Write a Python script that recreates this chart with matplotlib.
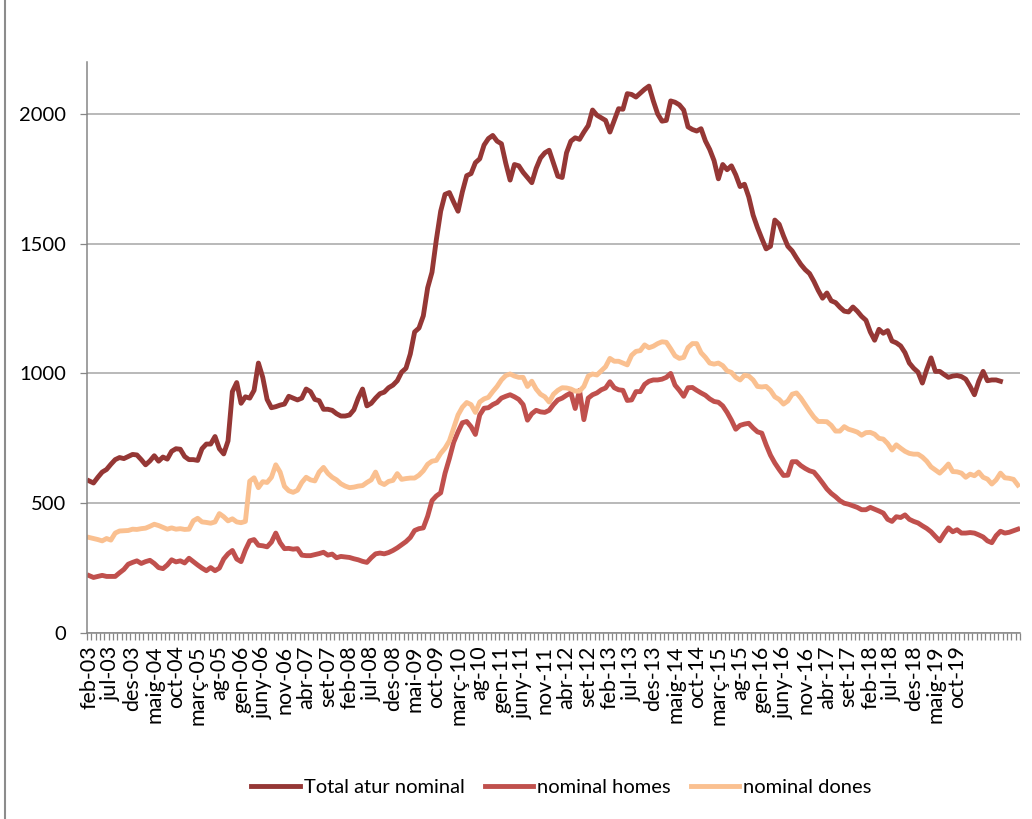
import matplotlib
matplotlib.use("Agg")
from matplotlib import pyplot as plt
from matplotlib.lines import Line2D
import numpy as np

# monthly values, feb-03 onwards
total = [586, 578, 600, 620, 630, 650, 668, 676, 672, 680, 688, 686, 668, 648, 663, 683, 662, 678, 670, 700,
         710, 708, 680, 668, 668, 665, 710, 728, 728, 757, 710, 690, 740, 930, 965, 885, 910, 905, 935, 1040,
         985, 900, 868, 872, 878, 882, 912, 905, 898, 905, 940, 930, 900, 895, 862, 862, 858, 845, 836, 836,
         840, 860, 905, 940, 875, 885, 905, 922, 928, 945, 955, 972, 1005, 1020, 1075, 1160, 1175, 1222, 1330, 1390,
         1515, 1625, 1690, 1697, 1660, 1625, 1700, 1762, 1770, 1812, 1827, 1880, 1905, 1917, 1895, 1885, 1810, 1745, 1805, 1800,
         1775, 1755, 1735, 1790, 1830, 1850, 1860, 1810, 1760, 1755, 1850, 1895, 1908, 1902, 1930, 1955, 2015, 1995, 1985, 1975,
         1930, 1975, 2020, 2018, 2078, 2075, 2065, 2080, 2095, 2107, 2050, 2000, 1972, 1975, 2050, 2045, 2035, 2015, 1950, 1940,
         1934, 1943, 1896, 1863, 1820, 1750, 1805, 1785, 1800, 1765, 1720, 1729, 1680, 1610, 1562, 1520, 1480, 1490, 1591, 1575,
         1530, 1490, 1472, 1445, 1420, 1400, 1385, 1355, 1320, 1290, 1310, 1280, 1273, 1255, 1240, 1237, 1256, 1240, 1220, 1205,
         1160, 1128, 1170, 1155, 1165, 1125, 1118, 1106, 1080, 1040, 1020, 1005, 963, 1015, 1060, 1008, 1008, 996, 985, 990,
         992, 988, 978, 950, 918, 970, 1008, 972, 975, 975, 970, None, None, None, None]

homes = [221, 214, 218, 222, 218, 218, 218, 232, 245, 265, 272, 278, 268, 275, 280, 268, 252, 248, 262, 282,
         274, 278, 270, 288, 275, 262, 250, 240, 252, 240, 250, 285, 305, 318, 285, 275, 320, 355, 360, 338,
         336, 332, 350, 385, 348, 325, 326, 323, 325, 300, 298, 298, 302, 306, 311, 300, 304, 290, 295, 293,
         291, 286, 282, 276, 272, 290, 305, 308, 305, 310, 318, 328, 340, 352, 368, 395, 402, 405, 450, 510,
         528, 540, 615, 672, 735, 775, 810, 815, 795, 765, 840, 866, 868, 880, 888, 905, 912, 918, 910, 900,
         880, 820, 845, 858, 852, 850, 858, 880, 898, 905, 916, 925, 865, 935, 822, 905, 918, 925, 937, 944,
         968, 945, 937, 935, 896, 898, 930, 930, 958, 970, 975, 975, 978, 985, 1000, 955, 935, 912, 945, 946,
         935, 925, 916, 902, 892, 889, 875, 850, 820, 785, 800, 805, 808, 790, 775, 770, 725, 685, 655, 630,
         607, 608, 660, 660, 645, 634, 625, 620, 600, 578, 555, 538, 525, 510, 500, 496, 490, 484, 475, 475,
         484, 477, 470, 462, 438, 430, 448, 445, 455, 438, 430, 424, 413, 403, 390, 372, 355, 382, 405, 390,
         398, 385, 385, 387, 385, 378, 370, 355, 348, 375, 392, 385, 388, 394, 400]

dones = [368, 364, 360, 355, 364, 358, 385, 393, 394, 395, 400, 399, 402, 404, 411, 419, 414, 407, 400, 405,
         400, 402, 399, 400, 432, 442, 428, 426, 423, 428, 460, 448, 432, 440, 428, 425, 430, 585, 598, 560,
         583, 580, 600, 648, 620, 565, 548, 542, 550, 580, 600, 590, 586, 620, 638, 615, 600, 590, 575, 566,
         560, 562, 566, 568, 580, 590, 620, 580, 572, 584, 588, 614, 592, 595, 597, 597, 608, 625, 650, 662,
         665, 692, 712, 740, 790, 840, 870, 888, 880, 850, 890, 902, 908, 930, 950, 975, 992, 998, 990, 985,
         985, 950, 970, 940, 920, 910, 890, 920, 935, 945, 944, 940, 932, 932, 950, 990, 998, 994, 1010, 1026,
         1058, 1047, 1047, 1040, 1033, 1070, 1085, 1088, 1110, 1099, 1105, 1115, 1122, 1120, 1095, 1068, 1058, 1062, 1100, 1115,
         1115, 1080, 1062, 1040, 1036, 1040, 1030, 1010, 1004, 985, 975, 993, 990, 975, 950, 948, 950, 935, 910, 900,
         882, 894, 920, 925, 905, 880, 855, 832, 815, 815, 814, 800, 778, 778, 795, 785, 780, 774, 762, 772,
         773, 766, 750, 747, 730, 705, 725, 712, 700, 692, 689, 689, 678, 662, 640, 628, 616, 632, 651, 622,
         621, 616, 600, 612, 606, 620, 600, 593, 574, 590, 616, 598, 596, 592, 570]

# a label on every 5th month, blank categories after oct-19
tick_labels = ["feb-03", "jul-03", "des-03", "maig-04", "oct-04", "març-05", "ag-05", "gen-06", "juny-06",
               "nov-06", "abr-07", "set-07", "feb-08", "jul-08", "des-08", "mai-09", "oct-09", "març-10",
               "ag-10", "gen-11", "juny-11", "nov-11", "abr-12", "set-12", "feb-13", "jul-13", "des-13",
               "maig-14", "oct-14", "març-15", "ag-15", "gen-16", "juny-16", "nov-16", "abr-17", "set-17",
               "feb-18", "jul-18", "des-18", "maig-19", "oct-19"]

n = len(homes)
x = np.arange(n)
tot = np.array([np.nan if v is None else v for v in total], dtype=float)

plt.rcParams['font.family'] = ['Lato', 'DejaVu Sans']

fig = plt.figure(figsize=(10.32, 8.19), dpi=100)
ax = fig.add_axes([87 / 1032, 1 - 633 / 819, (1020 - 87) / 1032, (633 - 62) / 819])

ax.plot(x, tot, color='#953735', lw=3.5, label='Total atur nominal', solid_joinstyle='round')
ax.plot(x, homes, color='#C0504D', lw=3.5, label='nominal homes', solid_joinstyle='round')
ax.plot(x, dones, color='#FAC090', lw=3.5, label='nominal dones', solid_joinstyle='round')

ax.set_xlim(-0.5, n - 0.5)
ax.set_ylim(0, 2200)
ax.set_yticks([0, 500, 1000, 1500, 2000])
ax.yaxis.grid(True, color='#a6a6a6', lw=1.1)
ax.set_axisbelow(True)

ax.set_xticks(np.arange(0, 5 * len(tick_labels), 5))
ax.set_xticklabels(tick_labels, rotation=90, fontsize=15.5)
ax.set_xticks(np.arange(n + 1) - 0.5, minor=True)
ax.tick_params(axis='x', which='major', length=0, pad=9)
ax.tick_params(axis='x', which='minor', length=5, color='#868686', width=0.9, direction='out')
ax.tick_params(axis='y', length=5, color='#868686', width=0.9, labelsize=14.5, pad=10)

for s in ['top', 'right']:
    ax.spines[s].set_visible(False)
for s in ['left', 'bottom']:
    ax.spines[s].set_color('#868686')
    ax.spines[s].set_linewidth(1.1)

fig.legend(loc='center', bbox_to_anchor=(0.544, 0.038), ncol=3, frameon=False, fontsize=14.5,
           handlelength=2.4, handletextpad=0.2, columnspacing=1.0)

# border line of the pasted picture on the left
fig.add_artist(Line2D([5 / 1032, 5 / 1032], [0, 1], color='#8c8c8c', lw=1.5))

plt.savefig('out.png', dpi=100)
